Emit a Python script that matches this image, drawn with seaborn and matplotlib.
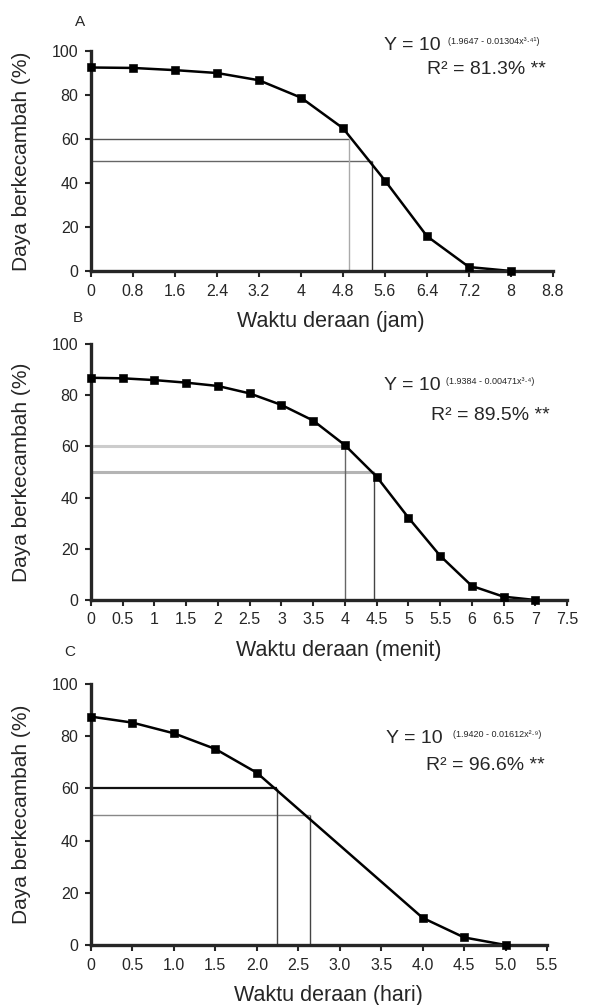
import numpy as np
import pandas as pd
import seaborn as sns
import matplotlib.pyplot as plt

# data
a_x = [0, 0.8, 1.6, 2.4, 3.2, 4.0, 4.8, 5.6, 6.4, 7.2, 8.0]
a_y = [92.5, 92.3, 91.3, 90.0, 86.7, 78.8, 64.9, 41.1, 15.8, 1.8, 0.0]
a_ticks = [0, 0.8, 1.6, 2.4, 3.2, 4.0, 4.8, 5.6, 6.4, 7.2, 8.0, 8.8]
a_ticklabels = ["0", "0.8", "1.6", "2.4", "3.2", "4", "4.8", "5.6", "6.4", "7.2", "8", "8.8"]
a_cut_y = [60, 50]
a_cut_x = [4.92, 5.36]

b_x = [0, 0.5, 1, 1.5, 2, 2.5, 3, 3.5, 4, 4.5, 5, 5.5, 6, 6.5, 7]
b_y = [86.8, 86.6, 85.9, 84.9, 83.6, 80.7, 76.2, 70.1, 60.5, 48.2, 32.2, 17.3, 5.5, 1.3, 0.0]
b_ticks = [0, 0.5, 1, 1.5, 2, 2.5, 3, 3.5, 4, 4.5, 5, 5.5, 6, 6.5, 7, 7.5]
b_ticklabels = ["0", "0.5", "1", "1.5", "2", "2.5", "3", "3.5", "4", "4.5", "5", "5.5", "6", "6.5", "7", "7.5"]
b_cut_y = [60, 50]
b_cut_x = [4.0, 4.46]

c_x = [0, 0.5, 1.0, 1.5, 2.0, 4.0, 4.5, 5.0]
c_y = [87.5, 85.2, 81.1, 75.1, 66.0, 10.4, 2.9, 0.0]
c_ticks = [0, 0.5, 1.0, 1.5, 2.0, 2.5, 3.0, 3.5, 4.0, 4.5, 5.0, 5.5]
c_ticklabels = ["0", "0.5", "1.0", "1.5", "2.0", "2.5", "3.0", "3.5", "4.0", "4.5", "5.0", "5.5"]
c_cut_y = [60, 50]
c_cut_x = [2.24, 2.64]

y_ticks = [0, 20, 40, 60, 80, 100]
panels = ["A", "B", "C"]
xlabels = ["Waktu deraan (jam)", "Waktu deraan (menit)", "Waktu deraan (hari)"]
ylabel = "Daya berkecambah (%)"
exponents = ["(1.9647 - 0.01304x\u00b3\u00b7\u2074\u00b9)",
             "(1.9384 - 0.00471x\u00b3\u00b7\u2074)",
             "(1.9420 - 0.01612x\u00b2\u00b7\u2079)"]
r2_texts = ["R\u00b2 = 81.3% **", "R\u00b2 = 89.5% **", "R\u00b2 = 96.6% **"]

sns.set_style("ticks")
plt.rcParams['font.family'] = ['Liberation Sans', 'DejaVu Sans']

W, H = 604, 1005
fig = plt.figure(figsize=(W / 100, H / 100), dpi=100)

# axes boxes in reference pixels: left, right, top(100), bottom(0)
px_boxes = [(91, 553, 51, 271), (91, 567, 344, 600), (91, 547, 684, 945)]
xs = [a_x, b_x, c_x]
ys = [a_y, b_y, c_y]
ticks = [a_ticks, b_ticks, c_ticks]
ticklabels = [a_ticklabels, b_ticklabels, c_ticklabels]
cut_ys = [a_cut_y, b_cut_y, c_cut_y]
cut_xs = [a_cut_x, b_cut_x, c_cut_x]
# guide line styles per panel: (color60, color50, lw60, lw50, vcolor1, vcolor2)
guide_styles = [("#555555", "#666666", 1.0, 1.0, "#aaaaaa", "#333333"),
                ("#cccccc", "#b4b4b4", 2.2, 2.2, "#666666", "#444444"),
                ("#111111", "#888888", 1.6, 1.0, "#444444", "#444444")]
# text placement in reference pixels
letter_pos = [(80, 22), (78, 318), (70, 652)]
eq_pos = [(384, 45, 448, 546, 70), (384, 385, 446, 550, 415), (386, 738, 453, 545, 765)]

for i in range(3):
    l, r, t, b = px_boxes[i]
    ax = fig.add_axes([l / W, 1 - b / H, (r - l) / W, (b - t) / H])
    df = pd.DataFrame({"x": xs[i], "y": ys[i]})
    st = guide_styles[i]
    ax.hlines(cut_ys[i][0], 0, cut_xs[i][0], color=st[0], lw=st[2], zorder=1)
    ax.hlines(cut_ys[i][1], 0, cut_xs[i][1], color=st[1], lw=st[3], zorder=1)
    ax.vlines(cut_xs[i][0], 0, cut_ys[i][0], color=st[4], lw=1.0, zorder=1)
    ax.vlines(cut_xs[i][1], 0, cut_ys[i][1], color=st[5], lw=1.0, zorder=1)
    sns.lineplot(data=df, x="x", y="y", color="black", lw=1.8, ax=ax)
    sns.scatterplot(data=df, x="x", y="y", marker="s", s=30, color="black",
                    edgecolor="black", zorder=3, ax=ax, clip_on=False)
    ax.set_xlim(0, ticks[i][-1])
    ax.set_ylim(0, 100)
    ax.set_xticks(ticks[i])
    ax.set_xticklabels(ticklabels[i])
    ax.set_yticks(y_ticks)
    ax.tick_params(labelsize=11.5, length=4, width=1.5, pad=5)
    for s in ["left", "bottom"]:
        ax.spines[s].set_linewidth(2.4)
    sns.despine(ax=ax)
    ax.set_xlabel(xlabels[i], fontsize=15.5)
    ax.set_ylabel(ylabel, fontsize=15)
    ax.xaxis.set_label_coords(0.52, -(49 - 9) / (b - t))
    ax.yaxis.set_label_coords((31 - 91) / (r - l), 0.5)

    ey = eq_pos[i]
    fig.text(ey[0] / W, 1 - ey[1] / H, "Y = 10", fontsize=14, ha="left", va="center")
    fig.text(ey[2] / W, 1 - (ey[1] - 4) / H, exponents[i], fontsize=6.5,
             ha="left", va="center")
    fig.text(ey[3] / W, 1 - ey[4] / H, r2_texts[i], fontsize=14, ha="right", va="center")
    lx, ly = letter_pos[i]
    fig.text(lx / W, 1 - ly / H, panels[i], fontsize=11, ha="center", va="center")

plt.savefig("out.png", dpi=100)
